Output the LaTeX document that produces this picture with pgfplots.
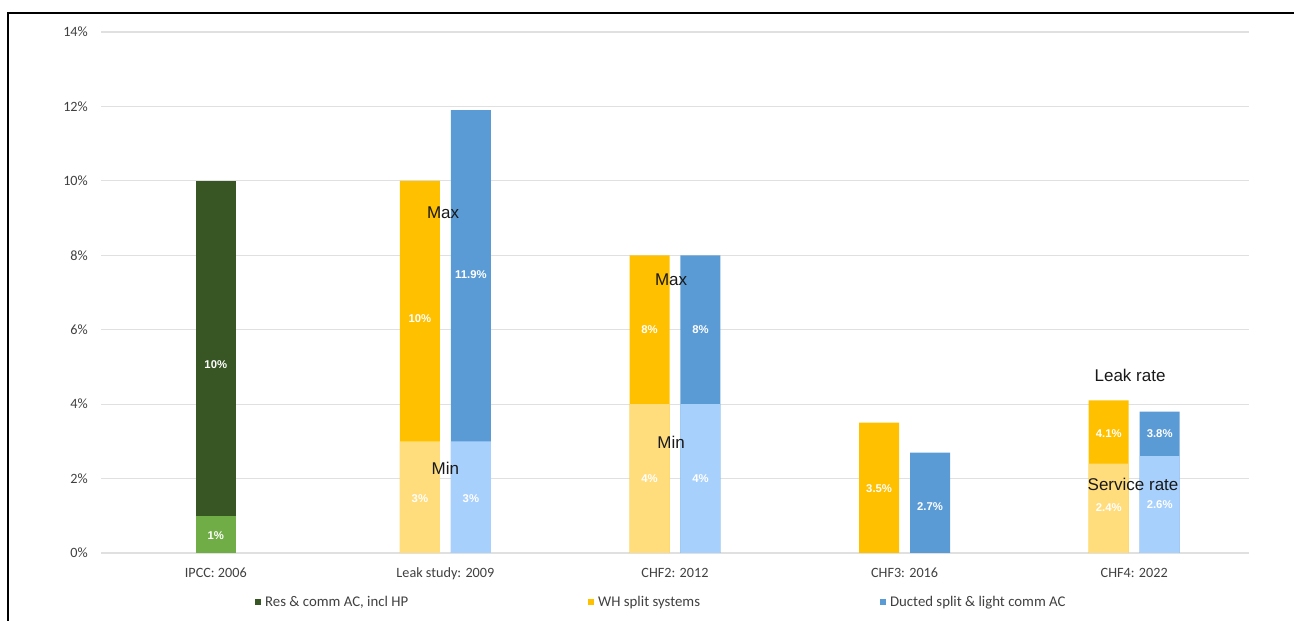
\documentclass[border=0pt]{standalone}
\usepackage{fontspec}
\setmainfont{Carlito}
\newfontfamily\arialf{Liberation Sans}
\usepackage{pgfplots}
\pgfplotsset{compat=1.18}

\definecolor{resdark}{HTML}{375623}
\definecolor{reslight}{HTML}{70AD47}
\definecolor{whdark}{HTML}{FFC000}
\definecolor{whlight}{HTML}{FFDC7C}
\definecolor{ducdark}{HTML}{5B9BD5}
\definecolor{duclight}{HTML}{A8D0FC}
\definecolor{gridgray}{HTML}{E0E0E0}
\definecolor{ticktext}{HTML}{404040}

\tikzset{
  lbl/.style={font=\arialf\bfseries\fontsize{11.3}{13}\selectfont, text=white},
  ann/.style={font=\arialf\fontsize{17}{20}\selectfont, text=black!90},
}

\begin{document}
\begin{tikzpicture}
\path[use as bounding box] (-101pt,-68pt) rectangle (1193pt,553pt);
\begin{axis}[
  scale only axis,
  width=1148pt, height=521pt,
  xmin=-0.5, xmax=4.5, ymin=0, ymax=14,
  ybar, bar width=0.1742,
  xtick={0,1,2,3,4},
  xticklabels={IPCC: 2006, Leak study: 2009, CHF2: 2012, CHF3: 2016, CHF4: 2022},
  ytick={0,2,4,6,8,10,12,14},
  yticklabels={0\%,2\%,4\%,6\%,8\%,10\%,12\%,14\%},
  ymajorgrids,
  grid style={color=gridgray, line width=1.2pt},
  axis line style={draw=none},
  major tick length=0pt,
  tick label style={font=\fontsize{14.2}{16}\selectfont, text=ticktext},
  xticklabel style={anchor=base, yshift=-24.5pt},
  yticklabel style={anchor=east, inner sep=0pt, xshift=-13pt},
  legend style={at={(axis description cs:0.13153,-0.09405)}, anchor=west,
    draw=none, fill=none, legend columns=3,
    font=\fontsize{14.8}{17}\selectfont, text=ticktext,
    /tikz/every even column/.append style={column sep=178pt}},
  legend image code/.code={\fill[#1] (0pt,-3pt) rectangle (6pt,3pt); \path (8pt,0pt);},
  clip=false,
]
% upper (maximum / leak) values, drawn from zero
\addplot[fill=resdark, draw=none, bar shift=0] coordinates {(0,10)};
\addlegendentry{Res \& comm AC, incl HP}
\addplot[fill=whdark, draw=none, bar shift=-0.111] coordinates {(1,10) (2,8) (3,3.5) (4,4.1)};
\addlegendentry{WH split systems}
\addplot[fill=ducdark, draw=none, bar shift=0.111] coordinates {(1,11.9) (2,8) (3,2.7) (4,3.8)};
\addlegendentry{Ducted split \& light comm AC}
% lower (minimum / service) values in front
\addplot[fill=reslight, draw=none, bar shift=0, forget plot] coordinates {(0,1)};
\addplot[fill=whlight, draw=none, bar shift=-0.111, forget plot] coordinates {(1,3) (2,4) (4,2.4)};
\addplot[fill=duclight, draw=none, bar shift=0.111, forget plot] coordinates {(1,3) (2,4) (4,2.6)};

% value labels
\node[lbl] at (axis cs:0,5.05) {10\%};
\node[lbl] at (axis cs:0,0.48) {1\%};
\node[lbl] at (axis cs:0.889,6.29) {10\%};
\node[lbl] at (axis cs:1.111,7.47) {11.9\%};
\node[lbl] at (axis cs:0.889,1.46) {3\%};
\node[lbl] at (axis cs:1.111,1.46) {3\%};
\node[lbl] at (axis cs:1.889,5.99) {8\%};
\node[lbl] at (axis cs:2.111,5.99) {8\%};
\node[lbl] at (axis cs:1.889,1.99) {4\%};
\node[lbl] at (axis cs:2.111,1.99) {4\%};
\node[lbl] at (axis cs:2.889,1.72) {3.5\%};
\node[lbl] at (axis cs:3.111,1.26) {2.7\%};
\node[lbl] at (axis cs:3.889,3.2) {4.1\%};
\node[lbl] at (axis cs:4.111,3.2) {3.8\%};
\node[lbl] at (axis cs:3.889,1.21) {2.4\%};
\node[lbl] at (axis cs:4.111,1.29) {2.6\%};

% annotations
\node[ann] at (axis cs:0.99,9.14) {Max};
\node[ann] at (axis cs:1.0,2.28) {Min};
\node[ann] at (axis cs:1.983,7.34) {Max};
\node[ann] at (axis cs:1.983,2.98) {Min};
\node[ann] at (axis cs:3.982,4.78) {Leak rate};
\node[ann] at (axis cs:3.995,1.83) {Service rate};
\end{axis}
\draw[line width=2pt] (-93pt,-70pt) -- (-93pt,540pt) -- (1196pt,540pt);
\end{tikzpicture}
\end{document}
